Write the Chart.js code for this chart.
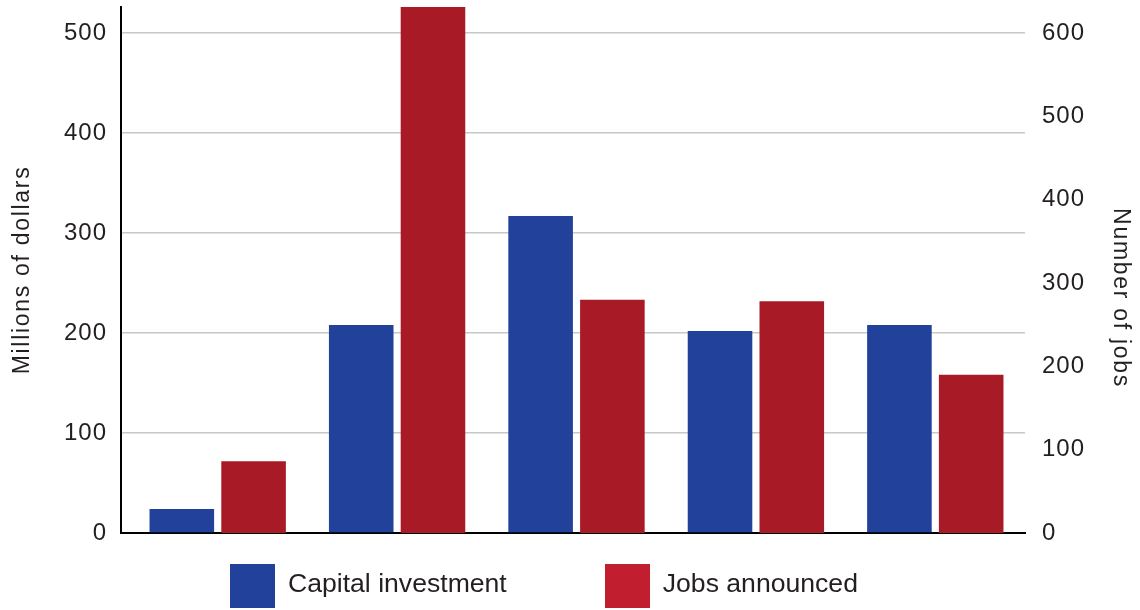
<!DOCTYPE html>
<html>
<head>
<meta charset="utf-8">
<script src="https://cdn.jsdelivr.net/npm/chart.js"></script>
<style>
    body { margin: 0; background: #fff; }
    #wrap { position: relative; width: 1140px; height: 610px; }
    #legend { position: absolute; left: 230px; top: 564px; display: flex; font-family: 'Liberation Sans', Arial, sans-serif; font-size: 26.6px; color: #231f20; }
    .lg-item { display: flex; align-items: center; height: 44px; }
    .lg-item + .lg-item { margin-left: 98px; }
    .lg-box { width: 45px; height: 44px; box-sizing: border-box; }
    .lg-text { margin-left: 13px; line-height: 44px; position: relative; top: -3px; }
</style>
</head>
<body>
<div id="wrap">
    <canvas id="investChart" width="1140" height="610"></canvas>
    <div id="legend"></div>
</div>
<script>
// --- Data ---
const CATEGORIES = ['1', '2', '3', '4', '5'];
const CAPITAL_INVESTMENT = [24, 208, 317, 202, 208];   // millions of dollars
const JOBS_ANNOUNCED = [86, 640, 280, 278, 190];        // number of jobs
const DOLLAR_AXIS_MAX = 526;
const JOBS_AXIS_MAX = 631.2;
const TICK_STEP = 100;
const SERIES_NAMES = ['Capital investment', 'Jobs announced'];
const AXIS_TITLES = ['Millions of dollars', 'Number of jobs'];

// --- Styles ---
const BLUE = '#22419a';
const RED = '#a91a27';
const LEGEND_COLORS = ['#22419a', '#c11f2f'];
const TEXT_COLOR = '#231f20';
const FONT = "'Liberation Sans', Arial, sans-serif";
const BAR_INSET = 7;   // gap between the left axis line and the first category

Chart.defaults.font.family = FONT;
Chart.defaults.color = TEXT_COLOR;

// fixed widths for the two value axes so the plot area sits where we want it
function fixVerticalAxis(width) {
    return scale => {
        scale.width = width;
        scale.paddingTop = 0;
        scale.paddingBottom = 0;
    };
}

// rotated axis titles, drawn by hand so each can be placed on its own
const axisTitles = {
    id: 'axisTitles',
    afterLayout(chart) {
        // start the category band a little right of the axis line
        const x = chart.scales.x;
        x._startPixel += BAR_INSET;
        x._length -= BAR_INSET;
    },
    beforeDraw(chart) {
        chart.ctx.letterSpacing = '1px';
    },
    afterDraw(chart) {
        const { ctx, chartArea } = chart;
        const midY = (chartArea.top + chartArea.bottom) / 2;
        ctx.save();
        ctx.font = `23px ${FONT}`;
        ctx.letterSpacing = '1.7px';
        ctx.fillStyle = TEXT_COLOR;
        ctx.textAlign = 'center';
        ctx.textBaseline = 'middle';

        ctx.save();
        ctx.translate(23, midY);
        ctx.rotate(-Math.PI / 2);
        ctx.fillText(AXIS_TITLES[0], 0, 0);
        ctx.restore();

        ctx.save();
        ctx.translate(chart.width - 20, midY + 28);
        ctx.rotate(Math.PI / 2);
        ctx.fillText(AXIS_TITLES[1], 0, 0);
        ctx.restore();

        ctx.restore();
    }
};

const chart = new Chart(document.getElementById('investChart'), {
    type: 'bar',
    data: {
        labels: CATEGORIES,
        datasets: [
            { label: SERIES_NAMES[0], data: CAPITAL_INVESTMENT, backgroundColor: BLUE, yAxisID: 'y' },
            { label: SERIES_NAMES[1], data: JOBS_ANNOUNCED, backgroundColor: RED, yAxisID: 'y1' }
        ]
    },
    options: {
        responsive: false,
        animation: false,
        barPercentage: 0.9,
        categoryPercentage: 0.8,
        layout: { padding: { top: 7, bottom: 77, left: 0, right: 0 } },
        plugins: {
            legend: { display: false },
            tooltip: { enabled: false }
        },
        scales: {
            x: {
                grid: { display: false, drawTicks: false },
                border: { color: '#000', width: 2 },
                ticks: { display: false },
                afterFit: scale => { scale.height = 0; }
            },
            y: {
                position: 'left',
                min: 0,
                max: DOLLAR_AXIS_MAX,
                grid: { color: '#c8c8c8', lineWidth: 1.5, drawTicks: false },
                border: { color: '#000', width: 2 },
                ticks: { stepSize: TICK_STEP, includeBounds: false, padding: 14, font: { size: 24 } },
                afterFit: fixVerticalAxis(121)
            },
            y1: {
                position: 'right',
                min: 0,
                max: JOBS_AXIS_MAX,
                grid: { display: false, drawTicks: false },
                border: { display: false },
                ticks: { stepSize: TICK_STEP, includeBounds: false, padding: 17, font: { size: 24 } },
                afterFit: fixVerticalAxis(115)
            }
        }
    },
    plugins: [axisTitles]
});

// --- HTML legend built from the datasets ---
const legendEl = document.getElementById('legend');
chart.data.datasets.forEach((ds, i) => {
    const item = document.createElement('div');
    item.className = 'lg-item';
    item.innerHTML = `<span class="lg-box" style="background:${LEGEND_COLORS[i]}"></span><span class="lg-text">${ds.label}</span>`;
    legendEl.appendChild(item);
});
</script>
</body>
</html>
